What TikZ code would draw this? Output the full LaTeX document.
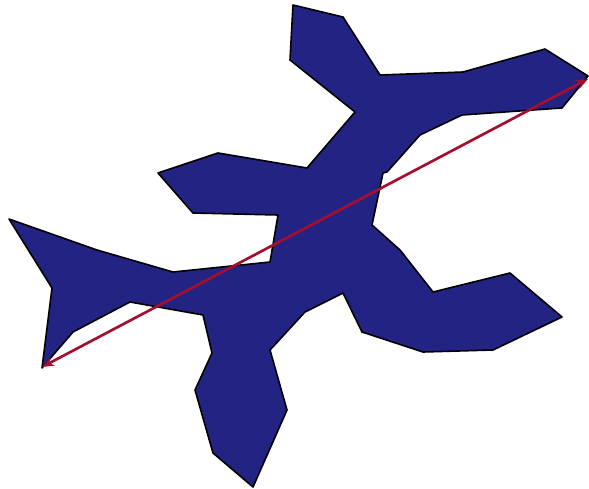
\documentclass[tikz,border=0pt]{standalone}
\usetikzlibrary{arrows.meta}
\definecolor{planeblue}{RGB}{35,35,132}
\definecolor{axisred}{RGB}{165,15,45}
\tikzset{
  planeshape/.style={fill=planeblue,draw=black,line width=1.2pt,line join=round},
  axisline/.style={draw=axisred,line width=2pt,{Stealth[length=9pt,width=7pt]}-{Stealth[length=9pt,width=7pt]}}
}
\begin{document}
\begin{tikzpicture}[x=0.75pt,y=-0.75pt]
\useasboundingbox (0,0) rectangle (589,489);
\draw[planeshape]
 (9,219) -- (97,250) -- (173,272) -- (270,262) -- (278,215) -- (193,213)
 -- (158,173) -- (218,153) -- (307,168) -- (355,112) -- (290,60) -- (293,5)
 -- (343,17) -- (380,75) -- (463,72) -- (545,49) -- (588,76) -- (562,108)
 -- (533,110) -- (462,115) -- (420,135) -- (387,172) -- (383,173)
 -- (372,225) -- (400,250) -- (433,292) -- (510,273) -- (562,317)
 -- (493,350) -- (423,352) -- (362,332) -- (343,293) -- (305,312)
 -- (270,350) -- (287,410) -- (253,487) -- (213,453) -- (195,390)
 -- (212,353) -- (203,315) -- (130,302) -- (73,332) -- (42,368)
 -- (52,288) -- cycle;
\coordinate (tailend) at (42,367);
\coordinate (noseend) at (588,79);
\draw[axisline] (tailend) -- (noseend);
\end{tikzpicture}
\end{document}
